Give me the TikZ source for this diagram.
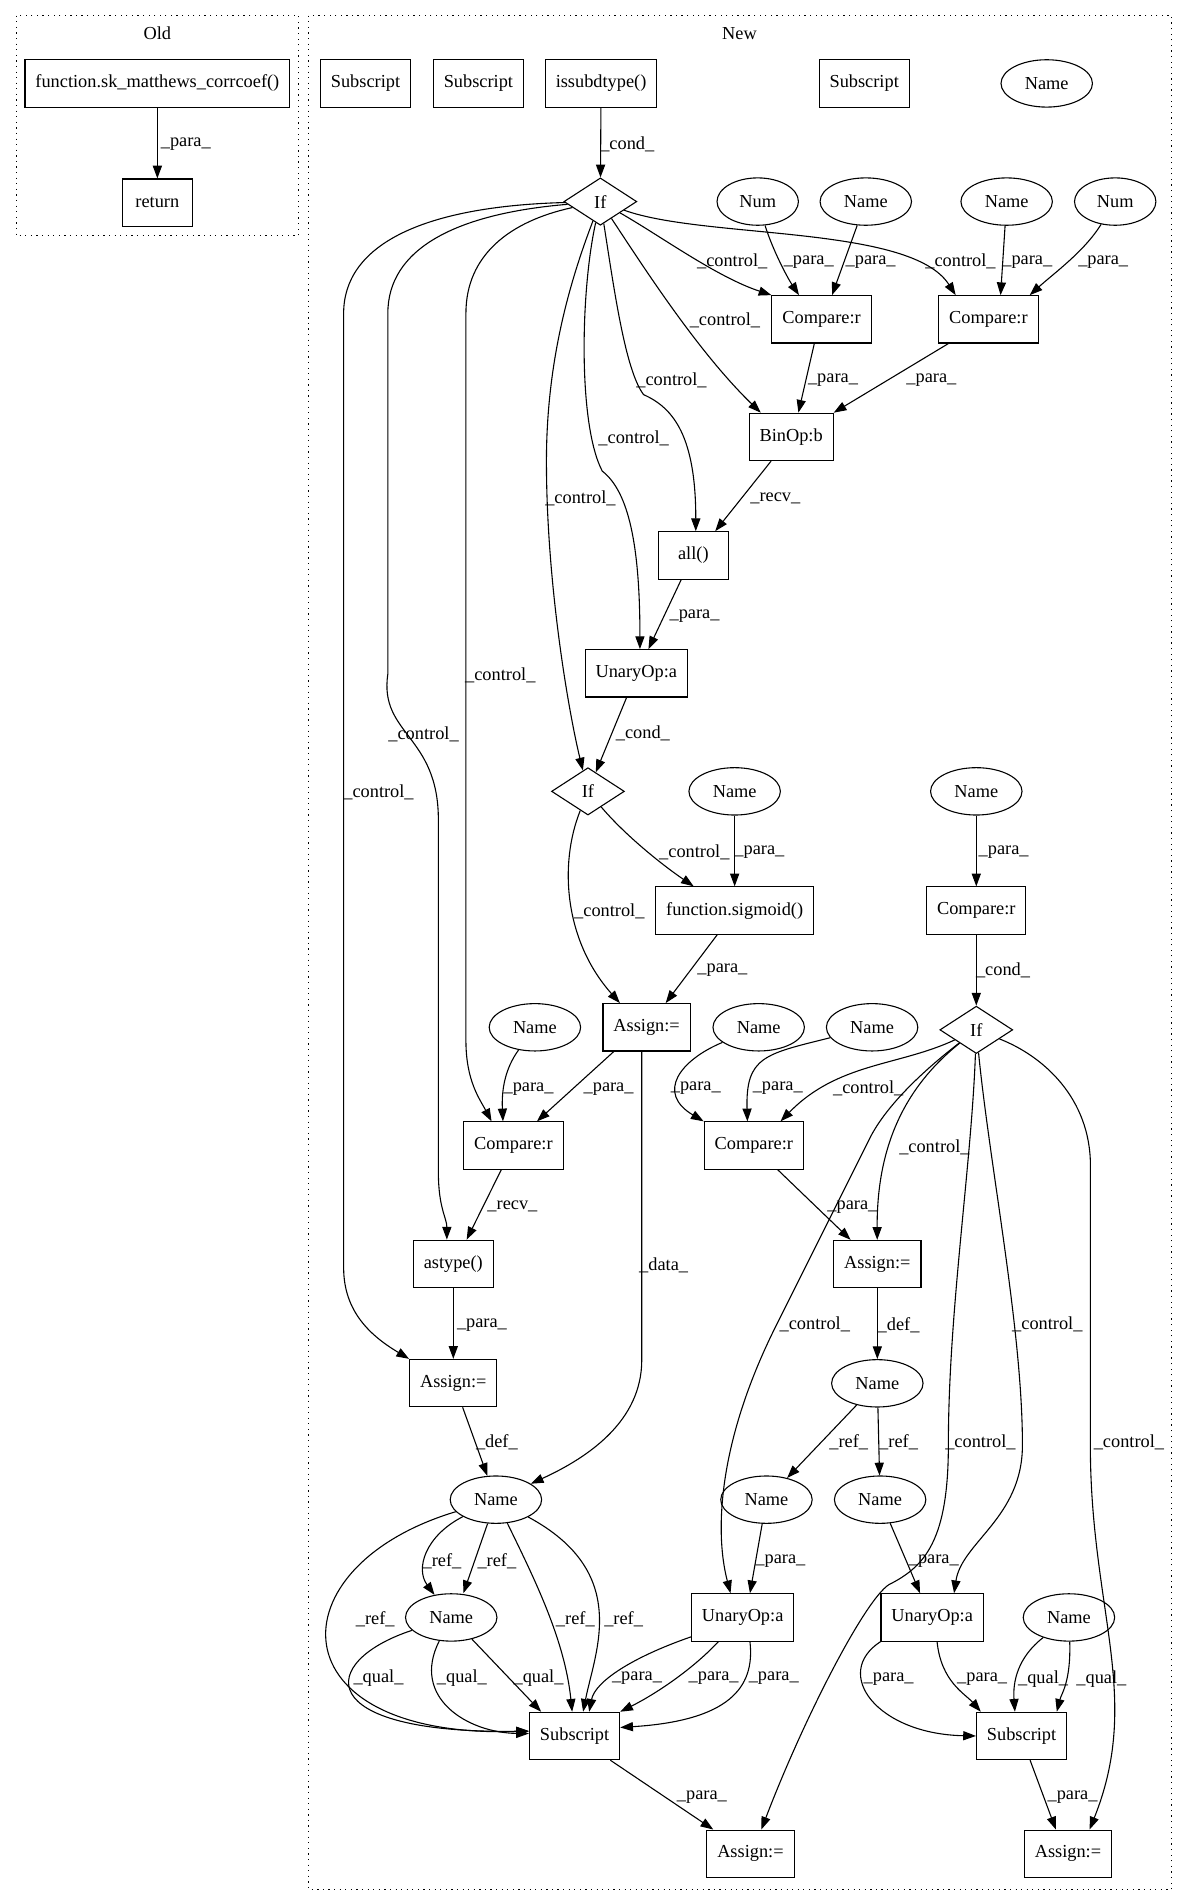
\documentclass[tikz,border=0pt]{standalone}
\usepackage{fontspec}
\setmainfont{Liberation Serif}
\usepackage{tikz}
\usetikzlibrary{positioning,arrows.meta,shapes.geometric}

\begin{document}
\begin{tikzpicture}[
  x=1pt, y=-1pt,
  font=\fontsize{15.1pt}{18pt}\selectfont,
  box/.style={draw, line width=0.9pt, rectangle, minimum height=39pt, minimum width=58pt, inner xsep=8.6pt, inner ysep=0pt},
  oval/.style={draw, line width=0.9pt, ellipse, minimum height=39pt, inner xsep=8.6pt, inner ysep=1pt},
  ifnode/.style={draw, line width=0.9pt, diamond, aspect=1.5, minimum height=39pt, minimum width=60pt, inner sep=0pt},
  arrow/.style={-{Triangle[length=10.5pt,width=7.5pt]}, line width=0.9pt},
  lab/.style={inner sep=0pt},
  cluster/.style={line width=0.9pt, dash pattern=on 1pt off 3.6pt}
]
\useasboundingbox (0,0) rectangle (978,1568);

% clusters
\draw[cluster] (13.3,12.9) rectangle (246,194);
\node[lab] (oldlab) at (129.6,27.5) {Old};
\draw[cluster] (254.2,12.9) rectangle (965,1556);
\node[lab] (newlab) at (609,27.5) {New};

% Old
\node[box] (sk) at (129.6,68.7) {function.sk\_matthews\_corrcoef()};
\node[box, below=58.3pt of sk] (ret) {return};

% New: top rows
\node[box] (subA) at (301,68.7) {Subscript};
\node[box] (subB) at (394,68.7) {Subscript};
\node[box] (isdt) at (495,68.7) {issubdtype()};
\node[box] (subC) at (711.7,68.7) {Subscript};
\node[oval] (nmTop) at (862,68.7) {Name};
\node[ifnode] (ifA) at (494.4,166) {If};
\node[oval] (numA) at (624,166) {Num};
\node[oval] (nmA) at (713,166) {Name};
\node[oval] (nmB) at (829,166) {Name};
\node[oval] (numB) at (918.4,166) {Num};
\node[box] (cmpA) at (676.6,263) {Compare:r};
\node[box] (cmpB) at (814,263) {Compare:r};
\node[box] (binop) at (651.5,359.8) {BinOp:b};
\node[box] (allf) at (571,457.4) {all()};
\node[box] (unA) at (524,554.5) {UnaryOp:a};

% New: middle rows
\node[ifnode] (ifB) at (484.2,651.7) {If};
\node[oval] (nmSig) at (605,651.7) {Name};
\node[box, below=58.3pt of nmSig] (sigm) {function.sigmoid()};
\node[oval] (nmC) at (804,651.7) {Name};
\node[box, below=58.3pt of nmC] (cmpC) {Compare:r};
\node[ifnode, below=58.3pt of cmpC] (ifC) {If};
\node[box] (asgA) at (532.5,846) {Assign:=};
\node[oval] (nmD) at (440.5,846) {Name};
\node[oval] (nmE) at (624.8,846) {Name};
\node[oval] (nmF) at (718.2,846) {Name};
\node[box] (cmpD) at (422.8,943.4) {Compare:r};
\node[box] (cmpE) at (620.8,943.4) {Compare:r};
\node[box] (astp) at (373.3,1040.8) {astype()};
\node[box] (asgB) at (722.5,1041) {Assign:=};
\node[box, below=58.3pt of astp] (asgC) {Assign:=};
\node[oval, below=58.3pt of asgB] (nmG) {Name};

% New: bottom rows
\node[oval] (nmH) at (408.4,1235) {Name};
\node[oval] (nmI) at (631.2,1235) {Name};
\node[oval] (nmJ) at (724.8,1235) {Name};
\node[oval] (nmK) at (371.6,1332) {Name};
\node[box] (unB) at (611.6,1332) {UnaryOp:a};
\node[box] (unC) at (767.7,1332) {UnaryOp:a};
\node[oval] (nmL) at (880.3,1332) {Name};
\node[box] (subL) at (473.2,1429.6) {Subscript};
\node[box] (subR) at (841.3,1429.6) {Subscript};
\node[box] (asgD) at (618,1526.6) {Assign:=};
\node[box] (asgE) at (879.5,1526.6) {Assign:=};

% edges: Old
\draw[arrow] (sk) -- (ret) node[lab] at (153,118.5) {\_para\_};

% edges: first If
\draw[arrow] (isdt) -- (ifA) node[lab] at (516.6,118.6) {\_cond\_};
\draw[arrow] (ifA) .. controls (545,195) and (590,228) .. (cmpA.north west) node[lab] at (603,215.6) {\_control\_};
\draw[arrow] (numA) .. controls (636,205) and (648,228) .. ([xshift=-18.6]cmpA.north) node[lab] at (666,215.6) {\_para\_};
\draw[arrow] (nmA) -- ([xshift=8.6]cmpA.north) node[lab] at (717,215.6) {\_para\_};
\draw[arrow] (ifA) .. controls (580,197) and (750,185) .. ([xshift=-27]cmpB.north) node[lab] at (791,215.6) {\_control\_};
\draw[arrow] (nmB) -- ([xshift=10]cmpB.north) node[lab] at (846,215.6) {\_para\_};
\draw[arrow] (numB) .. controls (893,207) and (868,225) .. ([xshift=34]cmpB.north) node[lab] at (908.5,215.6) {\_para\_};
\draw[arrow] (ifA) .. controls (530,220) and (575,290) .. ([xshift=-25]binop.north) node[lab] at (597,264) {\_control\_};
\draw[arrow] ([xshift=-6]cmpA.south) -- ([xshift=6]binop.north) node[lab] at (686,313) {\_para\_};
\draw[arrow] ([xshift=-33]cmpB.south) -- (binop.north east) node[lab] at (767,313) {\_para\_};
\draw[arrow] (ifA) .. controls (506,240) and (515,305) .. (530,325) .. controls (555,336) and (573,360) .. ([xshift=2]allf.north) node[lab] at (553,313) {\_control\_};
\draw[arrow] ([xshift=-16.5]binop.south) -- ([xshift=18]allf.north) node[lab] at (638.5,410.6) {\_recv\_};
\draw[arrow] (ifA) .. controls (478,240) and (476,350) .. (496,388) .. controls (518,405) and (527,450) .. ([xshift=3]unA.north) node[lab] at (521.8,361) {\_control\_};
\draw[arrow] ([xshift=-10]allf.south) -- ([xshift=10]unA.north) node[lab] at (572,507.3) {\_para\_};
\draw[arrow] (ifA) .. controls (468,235) and (450,300) .. (450,380) .. controls (450,480) and (468,585) .. (ifB) node[lab] at (478,410.6) {\_control\_};
\draw[arrow] ([xshift=-8]unA.south) -- (ifB) node[lab] at (529.4,604.2) {\_cond\_};
\draw[arrow] (ifA) .. controls (420,182) and (383.7,210) .. (383.7,258) -- (383.7,857) .. controls (383.7,890) and (395,905) .. ([xshift=-18]cmpD.north) node[lab] at (412,556) {\_control\_};
\draw[arrow] (ifA) .. controls (375,176) and (319.4,205) .. (319.4,258) -- (319.4,555) .. controls (312,605) and (361,605) .. (361,675) -- (361,965) .. controls (361,995) and (368,1003) .. ([xshift=-5.3]astp.north) node[lab] at (348.8,604.8) {\_control\_};
\draw[arrow] (ifA) .. controls (345,170) and (283,203) .. (283,258) -- (283,1044) .. controls (283,1080) and (305,1100) .. (asgC.north west) node[lab] at (311.7,652.8) {\_control\_};

% edges: second If
\draw[arrow] (ifB) .. controls (515,688) and (545,712) .. ([xshift=-33.7]sigm.north) node[lab] at (571.8,701.7) {\_control\_};
\draw[arrow] (nmSig) -- (sigm) node[lab] at (625.4,701.7) {\_para\_};
\draw[arrow] (ifB) .. controls (460,712) and (465,775) .. ([xshift=-22]asgA.north) node[lab] at (501.8,750.6) {\_control\_};
\draw[arrow] ([xshift=-14.4]sigm.south) -- ([xshift=15.7]asgA.north) node[lab] at (594.9,799.2) {\_para\_};
\draw[arrow] (nmC) -- (cmpC) node[lab] at (826.5,701.7) {\_para\_};
\draw[arrow] (cmpC) -- (ifC) node[lab] at (826,798.7) {\_cond\_};

% edges: compares and assigns
\draw[arrow] (nmD) .. controls (416,880) and (413,897) .. ([xshift=-8.6]cmpD.north) node[lab] at (435.3,896.7) {\_para\_};
\draw[arrow] ([xshift=-27]asgA.south) -- ([xshift=19.4]cmpD.north) node[lab] at (501.2,896.7) {\_para\_};
\draw[arrow] ([xshift=-4]asgA.south) -- (528.5,1120) .. controls (528.5,1170) and (485,1200) .. (nmH) node[lab] at (546.5,1042.3) {\_data\_};
\draw[arrow] (nmE) .. controls (560,873) and (540,900) .. (cmpE.north west) node[lab] at (573,896.5) {\_para\_};
\draw[arrow] (nmF) .. controls (630,868) and (614,870) .. ([xshift=-5.3]cmpE.north) node[lab] at (640.5,896.2) {\_para\_};
\draw[arrow] (ifC) .. controls (740,878) and (690,875) .. ([xshift=22]cmpE.north) node[lab] at (715,896) {\_control\_};
\draw[arrow] (ifC) .. controls (748,893) and (722,940) .. (asgB) node[lab] at (769.5,944.8) {\_control\_};
\draw[arrow] ([xshift=19.7]cmpE.south) -- ([xshift=-22]asgB.north) node[lab] at (702,993.7) {\_para\_};
\draw[arrow] (ifC) .. controls (760,882) and (728,912) .. (715,940) -- (640,1090) .. controls (592,1185) and (588,1260) .. ([xshift=-10]unB.north) node[lab] at (671,1091) {\_control\_};
\draw[arrow] (asgB) -- (nmG) node[lab] at (740,1091) {\_def\_};
\draw[arrow] (ifC) .. controls (800,960) and (781,1080) .. (781,1190) .. controls (781,1268) and (762,1290) .. (732,1305) .. controls (712,1318) and (662,1415) .. ([xshift=9]asgD.north) node[lab] at (807.4,1188) {\_control\_};
\draw[arrow] (ifC) .. controls (815,960) and (842,1095) .. (842,1190) .. controls (842,1250) and (792,1270) .. ([xshift=18]unC.north) node[lab] at (862.5,1090.5) {\_control\_};
\draw[arrow] (ifC) .. controls (860,870) and (898,905) .. (898,960) -- (898,1200) .. controls (900,1330) and (940,1400) .. ([xshift=17.8]asgE.north) node[lab] at (929.7,1188) {\_control\_};
\draw[arrow] ([xshift=-10]cmpD.south) -- ([xshift=11]astp.north) node[lab] at (422,993.7) {\_recv\_};
\draw[arrow] (astp) -- (asgC) node[lab] at (396.9,1091) {\_para\_};

% edges: names and subscripts
\draw[arrow] ([xshift=7.7]asgC.south) -- (nmH) node[lab] at (409.2,1187.8) {\_def\_};
\draw[arrow] (nmG) -- (nmI) node[lab] at (699,1188) {\_ref\_};
\draw[arrow] (nmG) -- (nmJ) node[lab] at (740,1188) {\_ref\_};
\draw[arrow] (nmI) -- ([xshift=6]unB.north) node[lab] at (642.7,1285.3) {\_para\_};
\draw[arrow] (nmJ) -- ([xshift=-10]unC.north) node[lab] at (769,1285.3) {\_para\_};
\draw[arrow] (nmH) .. controls (350,1265) and (342,1292) .. (nmK) node[lab] at (364,1285.3) {\_ref\_};
\draw[arrow] (nmH) -- ([xshift=10]nmK.north) node[lab] at (409.2,1285.3) {\_ref\_};
\draw[arrow] (nmH) .. controls (225,1290) and (225,1432) .. ([yshift=4]subL.west) node[lab] at (309,1333.4) {\_ref\_};
\draw[arrow] (nmH) .. controls (440,1300) and (465,1350) .. ([xshift=-2]subL.north) node[lab] at (473.8,1333.4) {\_ref\_};
\draw[arrow] (nmH) .. controls (520,1295) and (490,1360) .. ([xshift=7]subL.north) node[lab] at (513.6,1333.4) {\_ref\_};
\draw[arrow] (nmK) .. controls (262,1368) and (255,1428) .. ([yshift=4]subL.west) node[lab] at (311.7,1382.3) {\_qual\_};
\draw[arrow] (nmK) .. controls (338,1398) and (385,1427) .. ([yshift=2]subL.west) node[lab] at (380.4,1382.3) {\_qual\_};
\draw[arrow] (nmK) -- ([xshift=10]subL.north west) node[lab] at (443.5,1382.3) {\_qual\_};
\draw[arrow] ([yshift=-16]unB.west) .. controls (520,1365) and (490,1385) .. ([xshift=12]subL.north) node[lab] at (524.6,1382.3) {\_para\_};
\draw[arrow] ([xshift=-20]unB.south) .. controls (570,1375) and (540,1395) .. (subL.north east) node[lab] at (587.7,1382.3) {\_para\_};
\draw[arrow] ([xshift=6]unB.south) .. controls (622,1390) and (600,1417) .. ([yshift=7]subL.east) node[lab] at (637.2,1382.3) {\_para\_};
\draw[arrow] (unC.south west) .. controls (685,1378) and (722,1428) .. (subR.west) node[lab] at (731.8,1382.8) {\_para\_};
\draw[arrow] ([xshift=4]unC.south) .. controls (775,1385) and (795,1395) .. ([xshift=4]subR.north west) node[lab] at (808.8,1382.8) {\_para\_};
\draw[arrow] (nmL) .. controls (838,1365) and (834,1385) .. ([xshift=-5.5]subR.north) node[lab] at (859,1382.8) {\_qual\_};
\draw[arrow] (nmL) .. controls (882,1385) and (874,1395) .. ([xshift=29]subR.north) node[lab] at (907,1382.8) {\_qual\_};
\draw[arrow] ([xshift=29.4]subL.south) -- ([xshift=-30.6]asgD.north) node[lab] at (578,1480.3) {\_para\_};
\draw[arrow] ([xshift=7]subR.south) -- ([xshift=-10]asgE.north) node[lab] at (883.3,1480.3) {\_para\_};
\end{tikzpicture}
\end{document}
